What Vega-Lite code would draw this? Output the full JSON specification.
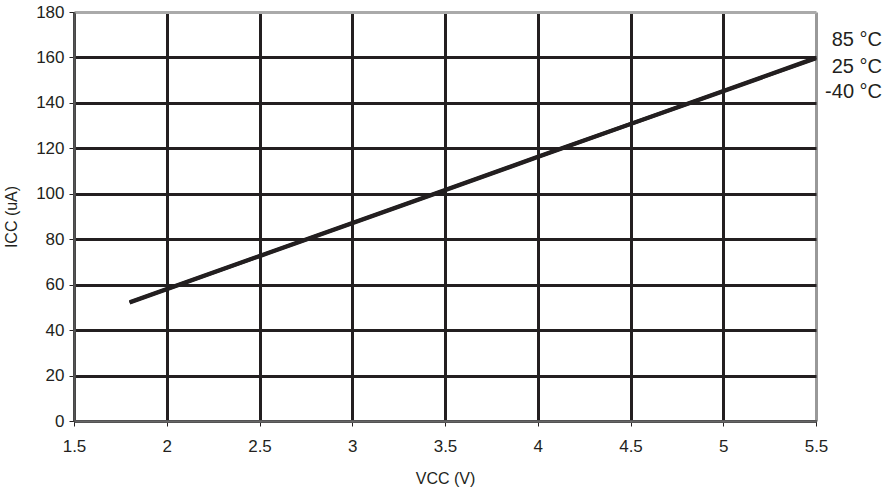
{
  "$schema": "https://vega.github.io/schema/vega-lite/v6.json",
  "autosize": {"type": "none"},
  "width": 742,
  "height": 409,
  "padding": {"left": 74, "top": 12, "right": 68, "bottom": 75},
  "background": "white",
  "config": {
    "view": {"stroke": null},
    "font": "Liberation Sans",
    "axis": {
      "labelFont": "Liberation Sans",
      "titleFont": "Liberation Sans",
      "labelFontSize": 17,
      "titleFontSize": 16,
      "labelColor": "#231f20",
      "titleColor": "#231f20",
      "titleFontWeight": "normal",
      "tickColor": "#231f20",
      "tickSize": 5,
      "gridWidth": 3,
      "gridOpacity": 1
    }
  },
  "datasets": {
    "curves": [
      {"vcc": 1.8, "icc": 52.4, "temp": "85 °C"},
      {"vcc": 2.0, "icc": 58.2, "temp": "85 °C"},
      {"vcc": 2.5, "icc": 72.8, "temp": "85 °C"},
      {"vcc": 3.0, "icc": 87.3, "temp": "85 °C"},
      {"vcc": 3.5, "icc": 101.8, "temp": "85 °C"},
      {"vcc": 4.0, "icc": 116.4, "temp": "85 °C"},
      {"vcc": 4.5, "icc": 130.9, "temp": "85 °C"},
      {"vcc": 5.0, "icc": 145.4, "temp": "85 °C"},
      {"vcc": 5.5, "icc": 160.0, "temp": "85 °C"},
      {"vcc": 1.8, "icc": 52.2, "temp": "25 °C"},
      {"vcc": 2.0, "icc": 58.0, "temp": "25 °C"},
      {"vcc": 2.5, "icc": 72.6, "temp": "25 °C"},
      {"vcc": 3.0, "icc": 87.1, "temp": "25 °C"},
      {"vcc": 3.5, "icc": 101.6, "temp": "25 °C"},
      {"vcc": 4.0, "icc": 116.2, "temp": "25 °C"},
      {"vcc": 4.5, "icc": 130.7, "temp": "25 °C"},
      {"vcc": 5.0, "icc": 145.2, "temp": "25 °C"},
      {"vcc": 5.5, "icc": 159.7, "temp": "25 °C"},
      {"vcc": 1.8, "icc": 52.0, "temp": "-40 °C"},
      {"vcc": 2.0, "icc": 57.8, "temp": "-40 °C"},
      {"vcc": 2.5, "icc": 72.4, "temp": "-40 °C"},
      {"vcc": 3.0, "icc": 86.9, "temp": "-40 °C"},
      {"vcc": 3.5, "icc": 101.4, "temp": "-40 °C"},
      {"vcc": 4.0, "icc": 116.0, "temp": "-40 °C"},
      {"vcc": 4.5, "icc": 130.5, "temp": "-40 °C"},
      {"vcc": 5.0, "icc": 145.0, "temp": "-40 °C"},
      {"vcc": 5.5, "icc": 159.5, "temp": "-40 °C"}
    ],
    "labels": [
      {"vcc": 5.5, "icc": 167.7, "label": "85 °C"},
      {"vcc": 5.5, "icc": 155.8, "label": "25 °C"},
      {"vcc": 5.5, "icc": 144.8, "label": "-40 °C"}
    ]
  },
  "layer": [
    {
      "data": {"name": "curves"},
      "mark": {"type": "line", "color": "#231f20", "strokeWidth": 3.5, "strokeCap": "butt"},
      "encoding": {
        "x": {
          "field": "vcc", "type": "quantitative",
          "scale": {"domain": [1.5, 5.5], "nice": false, "zero": false},
          "axis": {
            "values": [1.5, 2, 2.5, 3, 3.5, 4, 4.5, 5, 5.5],
            "format": "~g",
            "title": "VCC (V)",
            "titlePadding": 16,
            "labelPadding": 12,
            "labelFlush": false,
            "domainColor": "#666666",
            "domainWidth": 2.5,
            "gridColor": {"condition": {"test": "datum.value >= 5.5", "value": "#999999"}, "value": "#231f20"}
          }
        },
        "y": {
          "field": "icc", "type": "quantitative",
          "scale": {"domain": [0, 180], "nice": false},
          "axis": {
            "values": [0, 20, 40, 60, 80, 100, 120, 140, 160, 180],
            "title": "ICC (uA)",
            "titlePadding": 16,
            "labelPadding": 5,
            "labelFlush": false,
            "domainColor": "#555555",
            "domainWidth": 2.5,
            "gridColor": {"condition": {"test": "datum.value >= 180", "value": "#aaaaaa"}, "value": "#231f20"}
          }
        },
        "detail": {"field": "temp", "type": "nominal"}
      }
    },
    {
      "data": {"name": "labels"},
      "mark": {"type": "text", "align": "right", "baseline": "middle", "dx": 66, "fontSize": 20, "color": "#231f20", "font": "Liberation Sans", "clip": false},
      "encoding": {
        "x": {"field": "vcc", "type": "quantitative"},
        "y": {"field": "icc", "type": "quantitative"},
        "text": {"field": "label"}
      }
    }
  ]
}
